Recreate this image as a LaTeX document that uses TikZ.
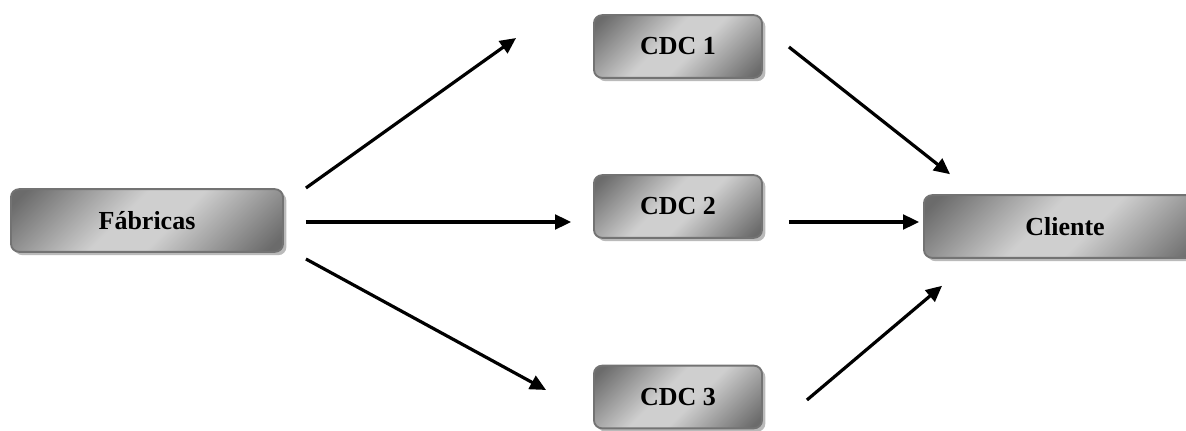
\documentclass[tikz,border=0pt]{standalone}
\usepackage{fontspec}
\setmainfont{Liberation Serif}
\usetikzlibrary{arrows.meta,shadows,calc}

\definecolor{boxdark}{gray}{0.42}
\definecolor{boxlight}{gray}{0.81}
\definecolor{boxline}{gray}{0.45}
\pgfdeclarehorizontalshading{boxgray}{100bp}{color(0bp)=(boxdark); color(18bp)=(boxdark); color(44bp)=(boxlight); color(56bp)=(boxlight); color(82bp)=(boxdark); color(100bp)=(boxdark)}

\begin{document}
\begin{tikzpicture}
\tikzset{arr/.style={draw=black,-{Triangle[length=12pt,width=11pt]},line width=2.4pt}}
\tikzset{box/.style={rectangle,rounded corners=6pt,draw=boxline,line width=1.4pt,shading=boxgray,shading angle=-45,minimum height=47pt,inner sep=0pt,font=\fontsize{19.5}{23}\selectfont\bfseries,drop shadow={shadow xshift=2.5pt,shadow yshift=-2.5pt,fill=black!45,opacity=0.6}}}

\begin{scope}[x={(0.75pt,0pt)},y={(0pt,-0.75pt)}]
\useasboundingbox (0,0) rectangle (1186,431);

\node[box,minimum width=204pt] (fab) at (147,220.5) {Fábricas};
\node[box,minimum width=126pt] (cdc1) at (678,46.5) {CDC 1};
\node[box,minimum width=126pt] (cdc2) at (678,206.5) {CDC 2};
\node[box,minimum width=126pt] (cdc3) at (678,397) {CDC 3};
\node[box,minimum width=211.5pt] (cli) at (1065,226.5) {Cliente};

\path[arr] ($(fab.east)+(22,-32.5)$) -- ($(cdc1.west)+(-77,-8.5)$);
\path[arr] ($(fab.east)+(22,1.5)$) -- ($(cdc2.west)+(-22,15.5)$);
\path[arr] ($(fab.east)+(22,38.5)$) -- ($(cdc3.west)+(-47,-7)$);

\path[arr] ($(cdc1.east)+(26,0.5)$) -- ($(cli.north west)+(27,-20)$);
\path[arr] ($(cdc2.east)+(26,15.5)$) -- ($(cli.west)+(-4,-4.5)$);
\path[arr] ($(cdc3.east)+(44,3)$) -- ($(cli.south west)+(19,27)$);

\end{scope}
\end{tikzpicture}
\end{document}
